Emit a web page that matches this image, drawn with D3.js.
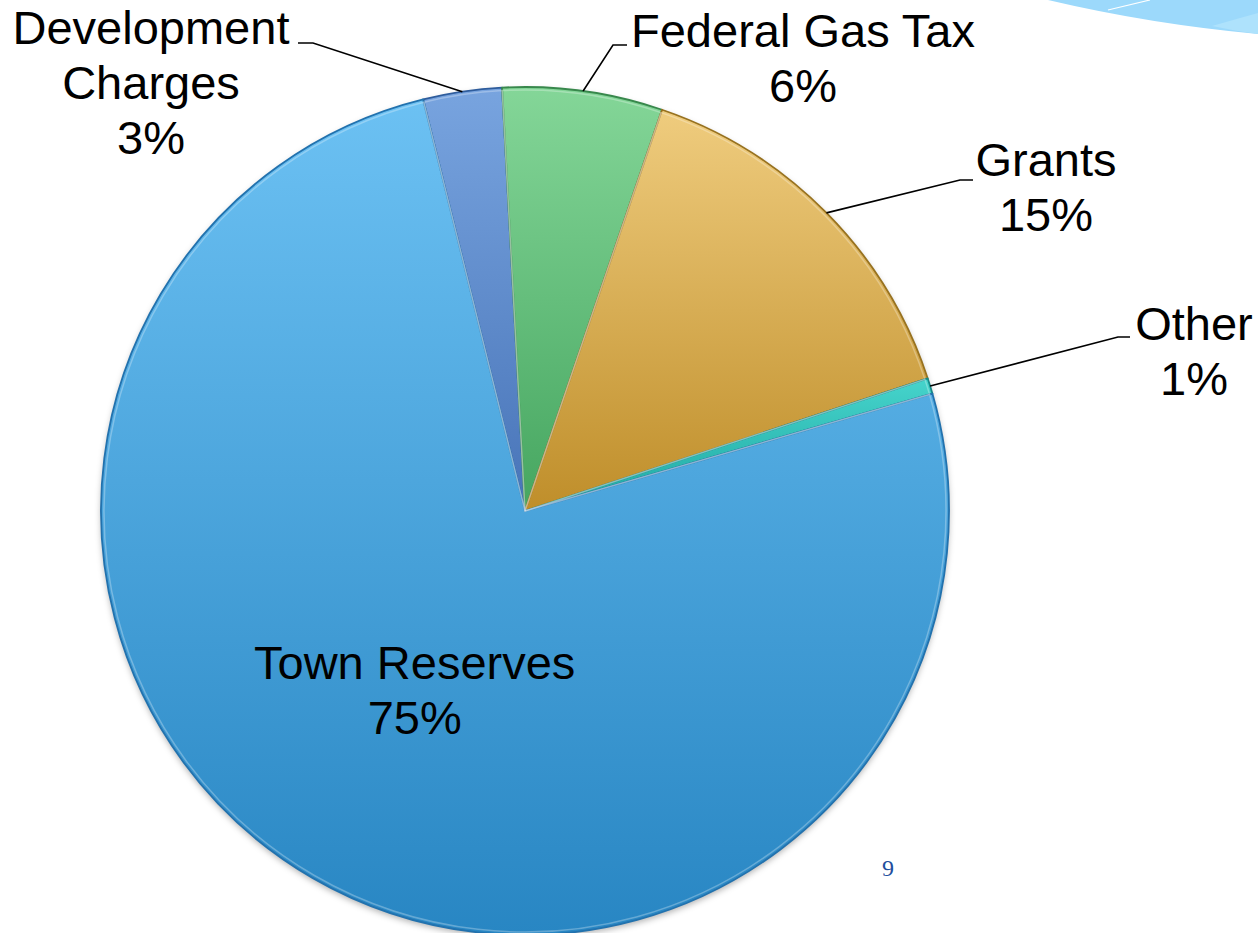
<!DOCTYPE html>
<html>
<head>
<meta charset="utf-8">
<script src="https://cdn.jsdelivr.net/npm/d3@7"></script>
<style>
  html, body { margin: 0; padding: 0; background: #ffffff; }
  svg { display: block; }
</style>
</head>
<body>
<svg id="chart" width="1258" height="933"></svg>
<script>
// ---- data ----
const categories = ["Development Charges", "Federal Gas Tax", "Grants", "Other", "Town Reserves"];
const values = [3.0, 6.1, 14.7, 0.6, 75.6];
const percentLabels = ["3%", "6%", "15%", "1%", "75%"];
const labelLines = [["Development", "Charges"], ["Federal Gas Tax"], ["Grants"], ["Other"], ["Town Reserves"]];

// ---- styles / layout ----
const topColors = ["#78a4df", "#84d698", "#efcc7e", "#46d4cc", "#6cc1f3"];
const bottomColors = ["#4874b8", "#46a660", "#bf8e2a", "#1ea6a0", "#2886c3"];
const strokeColors = ["#2e5c9c", "#38884c", "#98721f", "#168886", "#2272ae"];
// label anchor (center x, first baseline y) and leader elbow for outside labels
const labelLayout = [
  { x: 151, y: 44, elbow: [[313, 43], [298, 43]] },
  { x: 803, y: 47, elbow: [[613, 45], [627, 45]] },
  { x: 1046, y: 176, elbow: [[960, 180], [973, 180]] },
  { x: 1194, y: 340, elbow: [[1118, 337], [1130, 337]] },
  null
];

const W = 1258, H = 933;
const cx = 525, cy = 511, R = 424;
const startDeg = -13.9;
const fontSize = 47, lineH = 55;

const svg = d3.select("#chart");
const defs = svg.append("defs");

// decorative swoosh top-right
svg.append("path").attr("d", "M1048,0 Q1150,24 1258,34 L1258,0 Z").attr("fill", "#9cd9fb");
svg.append("path").attr("d", "M1212,26 Q1240,18 1258,13 L1258,34 Q1235,31 1212,26 Z").attr("fill", "#aee2fc");
svg.append("path").attr("d", "M1108,10 L1150,0").attr("stroke", "#ffffff").attr("stroke-width", 1.2).attr("fill", "none");

// gradients
values.forEach((v, i) => {
  const g = defs.append("linearGradient").attr("id", "grad" + i)
    .attr("x1", 0).attr("y1", 0).attr("x2", 0).attr("y2", 1);
  g.append("stop").attr("offset", "0%").attr("stop-color", topColors[i]);
  g.append("stop").attr("offset", "100%").attr("stop-color", bottomColors[i]);
});
const f = defs.append("filter").attr("id", "shadow").attr("x", "-10%").attr("y", "-10%").attr("width", "120%").attr("height", "120%");
f.append("feDropShadow").attr("dx", 0).attr("dy", 3).attr("stdDeviation", 3).attr("flood-color", "#000").attr("flood-opacity", 0.3);

const pie = d3.pie().sort(null).value(d => d)
  .startAngle(startDeg * Math.PI / 180)
  .endAngle(startDeg * Math.PI / 180 + 2 * Math.PI);
const arcs = pie(values);
const arc = d3.arc().innerRadius(0).outerRadius(R);
const edgeArc = d3.arc().innerRadius(R).outerRadius(R);
const innerLabelArc = d3.arc().innerRadius(R * 0.52).outerRadius(R * 0.52);
const hiArc = d3.arc().innerRadius(0).outerRadius(R - 3);

const g = svg.append("g").attr("transform", `translate(${cx},${cy})`);
g.append("circle").attr("r", R).attr("fill", "#2886c3").attr("filter", "url(#shadow)");

g.selectAll("path.slice").data(arcs).enter().append("path")
  .attr("class", "slice")
  .attr("d", arc)
  .attr("fill", (d, i) => `url(#grad${i})`)
  .attr("stroke", (d, i) => strokeColors[i])
  .attr("stroke-width", 1.8)
  .attr("stroke-linejoin", "round");

// subtle bevel highlight
g.selectAll("path.hi").data(arcs).enter().append("path")
  .attr("class", "hi")
  .attr("d", hiArc)
  .attr("fill", "none")
  .attr("stroke", "#ffffff")
  .attr("stroke-opacity", 0.28)
  .attr("stroke-width", 1.5);

// leader lines
arcs.forEach((d, i) => {
  const L = labelLayout[i];
  if (!L) return;
  const c = edgeArc.centroid(d);
  const p0 = [cx + c[0], cy + c[1]];
  const pts = [p0, L.elbow[0], L.elbow[1]];
  svg.append("path")
    .attr("d", d3.line()(pts))
    .attr("fill", "none").attr("stroke", "#000").attr("stroke-width", 1.6);
});

// labels
const font = "Arial, 'Liberation Sans', sans-serif";
arcs.forEach((d, i) => {
  const L = labelLayout[i];
  const lines = labelLines[i].concat([percentLabels[i]]);
  let x, y0;
  if (L) { x = L.x; y0 = L.y; }
  else {
    const c = innerLabelArc.centroid(d);
    x = cx + c[0];
    y0 = cy + c[1] - lineH * (lines.length - 1) / 2 + fontSize * 0.35 - 12;
  }
  const t = svg.append("text")
    .attr("text-anchor", "middle")
    .attr("font-family", font)
    .attr("font-size", fontSize)
    .attr("fill", "#000");
  lines.forEach((s, k) => {
    t.append("tspan").attr("x", x).attr("y", y0 + k * lineH).text(s);
  });
});

// page number
svg.append("text").attr("x", 888).attr("y", 876).attr("text-anchor", "middle")
  .attr("font-family", "'Liberation Serif', 'DejaVu Serif', serif").attr("font-size", 24)
  .attr("fill", "#1f4f9e").text("9");
</script>
</body>
</html>
